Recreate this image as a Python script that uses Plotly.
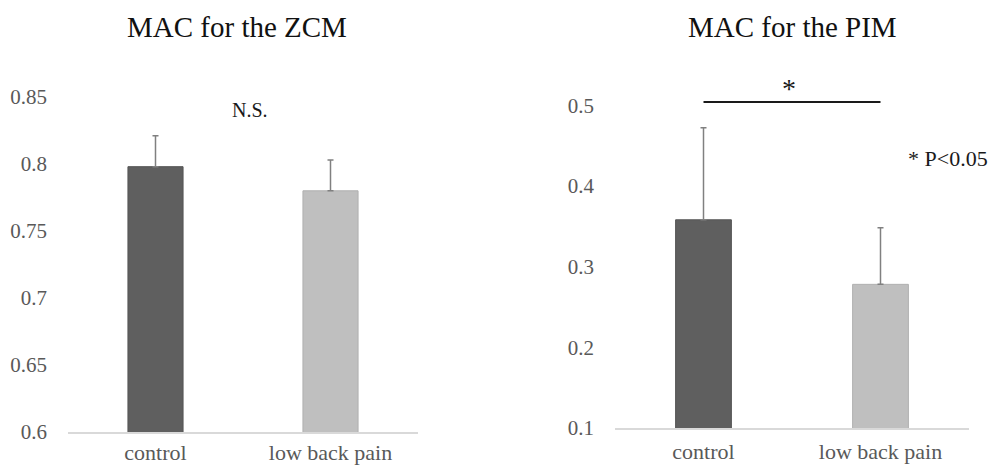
import plotly.graph_objects as go

# Group labels and measured MAC values (mean and upper SD)
groups = ["control", "low back pain"]
zcm_mean = [0.798, 0.780]
zcm_sd = [0.023, 0.023]
pim_mean = [0.358, 0.278]
pim_sd = [0.114, 0.070]
pim_bracket = [0.504, 0.504]

zcm_ticks = [0.6, 0.65, 0.7, 0.75, 0.8, 0.85]
zcm_ticktext = ["0.6", "0.65", "0.7", "0.75", "0.8", "0.85"]
pim_ticks = [0.1, 0.2, 0.3, 0.4, 0.5]
pim_ticktext = ["0.1", "0.2", "0.3", "0.4", "0.5"]

bar_colors = ["#5f5f5f", "#bfbfbf"]
edge_colors = ["#555555", "#b0b0b0"]
FONT = "Liberation Serif"
W, H = 992, 468

fig = go.Figure()

fig.add_trace(go.Bar(
    x=groups, y=zcm_mean, xaxis="x", yaxis="y",
    marker=dict(color=bar_colors, line=dict(color=edge_colors, width=1)),
    error_y=dict(type="data", array=zcm_sd, symmetric=False, arrayminus=[0, 0],
                 color="#808080", thickness=1.5, width=3),
    showlegend=False, hoverinfo="skip",
))
fig.add_trace(go.Bar(
    x=groups, y=pim_mean, xaxis="x2", yaxis="y2",
    marker=dict(color=bar_colors, line=dict(color=edge_colors, width=1)),
    error_y=dict(type="data", array=pim_sd, symmetric=False, arrayminus=[0, 0],
                 color="#808080", thickness=1.5, width=3),
    showlegend=False, hoverinfo="skip",
))

# Significance bracket between the two PIM groups
fig.add_trace(go.Scatter(
    x=groups, y=pim_bracket, xaxis="x2", yaxis="y2", mode="lines",
    line=dict(color="#1a1a1a", width=2), showlegend=False, hoverinfo="skip",
))

xaxis_common = dict(
    type="category", showgrid=False, zeroline=False,
    showline=True, linecolor="#d9d9d9", linewidth=1.5,
    ticks="", tickfont=dict(family=FONT, size=22, color="#595959"),
    automargin=False, fixedrange=True,
)
yaxis_common = dict(
    showgrid=False, zeroline=False, showline=False, ticks="",
    tickfont=dict(family=FONT, size=21, color="#595959"),
    ticklabelstandoff=20, automargin=False, fixedrange=True,
)

# PIM axis extends a little past 0.5 so the bracket stays inside the plot area
pim_top = 0.51
pim_px_per_unit = 807
pim_top_px = 428 - (pim_top - 0.1) * pim_px_per_unit

fig.update_layout(
    width=W, height=H,
    margin=dict(l=0, r=0, t=0, b=0),
    paper_bgcolor="white", plot_bgcolor="white",
    bargap=0.685,
    font=dict(family=FONT),
    xaxis=dict(domain=[68 / W, 418 / W], anchor="y", ticklabelstandoff=0,
               **xaxis_common),
    yaxis=dict(domain=[1 - 432 / H, 1 - 97 / H], anchor="x", range=[0.6, 0.85],
               tickvals=zcm_ticks, ticktext=zcm_ticktext, **yaxis_common),
    xaxis2=dict(domain=[615 / W, 969 / W], anchor="y2", ticklabelstandoff=3,
                **xaxis_common),
    yaxis2=dict(domain=[1 - 428 / H, 1 - pim_top_px / H], anchor="x2",
                range=[0.1, pim_top],
                tickvals=pim_ticks, ticktext=pim_ticktext, **yaxis_common),
    annotations=[
        dict(text="MAC for the ZCM", x=237 / W, y=1 - 27 / H, xref="paper", yref="paper",
             showarrow=False, xanchor="center", yanchor="middle",
             font=dict(family=FONT, size=29, color="#111111")),
        dict(text="MAC for the PIM", x=792 / W, y=1 - 27 / H, xref="paper", yref="paper",
             showarrow=False, xanchor="center", yanchor="middle",
             font=dict(family=FONT, size=29, color="#111111")),
        dict(text="N.S.", x=250 / W, y=1 - 110 / H, xref="paper", yref="paper",
             showarrow=False, xanchor="center", yanchor="middle",
             font=dict(family=FONT, size=20, color="#1a1a1a")),
        dict(text="*", x=789 / W, y=1 - 88 / H, xref="paper", yref="paper",
             showarrow=False, xanchor="center", yanchor="middle",
             font=dict(family=FONT, size=28, color="#1a1a1a")),
        dict(text="* P&lt;0.05", x=948 / W, y=1 - 158 / H, xref="paper", yref="paper",
             showarrow=False, xanchor="center", yanchor="middle",
             font=dict(family=FONT, size=22, color="#1a1a1a")),
    ],
)

fig.write_html("out.html")
